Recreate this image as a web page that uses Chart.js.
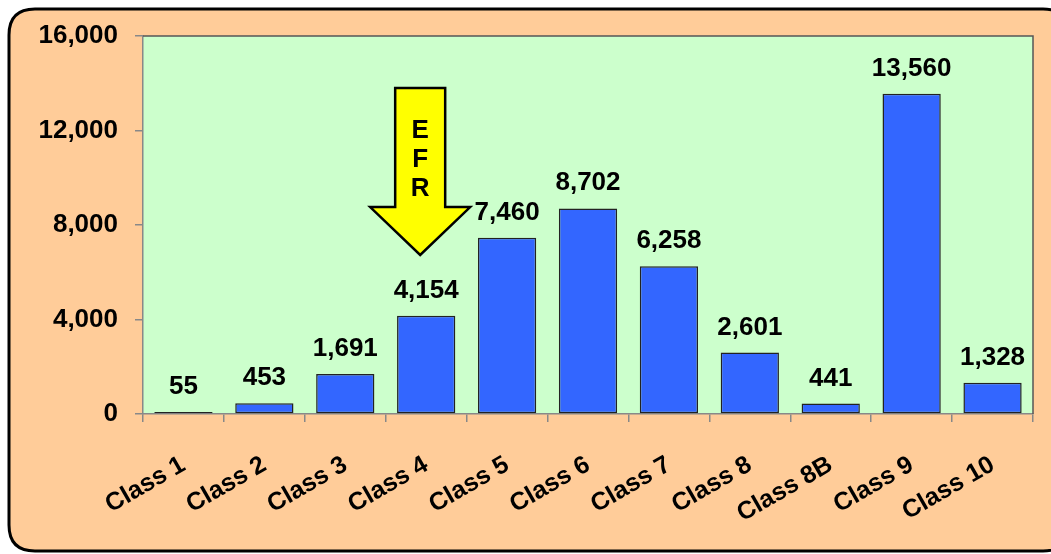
<!DOCTYPE html>
<html><head><meta charset="utf-8">
<script src="https://cdn.jsdelivr.net/npm/chart.js@4/dist/chart.umd.min.js"></script>
<style>html,body{margin:0;padding:0;background:#fff;overflow:hidden}canvas{display:block}</style>
</head><body>
<canvas id="c" width="1051" height="554"></canvas>
<script>
const categories = ['Class 1','Class 2','Class 3','Class 4','Class 5','Class 6','Class 7','Class 8','Class 8B','Class 9','Class 10'];
const values = [55, 453, 1691, 4154, 7460, 8702, 6258, 2601, 441, 13560, 1328];
const yTicks = [0, 4000, 8000, 12000, 16000];
const arrowText = ['E', 'F', 'R'];
const arrowCategoryIndex = 3;

const FONT = '"Liberation Sans", Arial, sans-serif';
const fmt = v => v.toLocaleString('en-US');

function roundRect(ctx, x, y, w, h, r) {
  ctx.beginPath();
  ctx.moveTo(x + r, y);
  ctx.lineTo(x + w - r, y);
  ctx.quadraticCurveTo(x + w, y, x + w, y + r);
  ctx.lineTo(x + w, y + h - r);
  ctx.quadraticCurveTo(x + w, y + h, x + w - r, y + h);
  ctx.lineTo(x + r, y + h);
  ctx.quadraticCurveTo(x, y + h, x, y + h - r);
  ctx.lineTo(x, y + r);
  ctx.quadraticCurveTo(x, y, x + r, y);
  ctx.closePath();
}

const bgPlugin = {
  id: 'bg',
  beforeDraw(chart) {
    const ctx = chart.ctx, a = chart.chartArea;
    ctx.save();
    ctx.fillStyle = '#ffffff';
    ctx.fillRect(0, 0, chart.width, chart.height);
    roundRect(ctx, 9, 9, 1060, 542, 26);
    ctx.fillStyle = '#FFCC99';
    ctx.fill();
    ctx.lineWidth = 3;
    ctx.strokeStyle = '#000000';
    ctx.stroke();
    ctx.fillStyle = '#CCFFCC';
    ctx.fillRect(a.left, a.top, a.right - a.left, a.bottom - a.top);
    ctx.restore();
  },
  afterDraw(chart) {
    const ctx = chart.ctx, a = chart.chartArea;
    ctx.save();
    ctx.strokeStyle = '#555555';
    ctx.lineWidth = 1.5;
    ctx.beginPath();
    ctx.moveTo(a.left, a.top);
    ctx.lineTo(a.right, a.top);
    ctx.lineTo(a.right, a.bottom);
    ctx.stroke();
    ctx.restore();
  }
};

const labelPlugin = {
  id: 'vlabels',
  afterDatasetsDraw(chart) {
    const ctx = chart.ctx;
    const meta = chart.getDatasetMeta(0);
    ctx.save();
    ctx.font = 'bold 26px ' + FONT;
    ctx.fillStyle = '#000';
    ctx.textAlign = 'center';
    ctx.textBaseline = 'alphabetic';
    meta.data.forEach((bar, i) => {
      ctx.fillText(fmt(values[i]), bar.x, bar.y - 18);
    });

    // EFR arrow annotation
    const xs = chart.scales.x, ys = chart.scales.y;
    const cx = xs.getPixelForValue(arrowCategoryIndex) - 6;
    const top = ys.getPixelForValue(13800);
    const base = ys.getPixelForValue(8760);
    const tip = ys.getPixelForValue(6730);
    ctx.beginPath();
    ctx.moveTo(cx - 25, top);
    ctx.lineTo(cx + 25, top);
    ctx.lineTo(cx + 25, base);
    ctx.lineTo(cx + 50, base);
    ctx.lineTo(cx, tip);
    ctx.lineTo(cx - 50, base);
    ctx.lineTo(cx - 25, base);
    ctx.closePath();
    ctx.fillStyle = '#FFFF00';
    ctx.fill();
    ctx.lineWidth = 2.5;
    ctx.lineJoin = 'miter';
    ctx.strokeStyle = '#000';
    ctx.stroke();
    ctx.fillStyle = '#000';
    ctx.font = 'bold 26px ' + FONT;
    ctx.textBaseline = 'middle';
    arrowText.forEach((t, k) => {
      ctx.fillText(t, cx, top + 43 + k * 29);
    });
    ctx.restore();
  }
};

new Chart(document.getElementById('c'), {
  type: 'bar',
  data: {
    labels: categories,
    datasets: [{
      data: values,
      backgroundColor: '#3366FF',
      borderColor: '#222222',
      borderWidth: 1.5,
      borderSkipped: false,
      minBarLength: 2,
      categoryPercentage: 1,
      barPercentage: 0.72
    }]
  },
  options: {
    responsive: false,
    animation: false,
    devicePixelRatio: 1,
    layout: { padding: { left: 0, top: 36, right: 18, bottom: 0 } },
    plugins: { legend: { display: false }, tooltip: { enabled: false } },
    scales: {
      x: {
        grid: { offset: true, drawOnChartArea: false, tickLength: 8, color: '#888888', lineWidth: 1.5 },
        border: { color: '#888888', width: 1.5 },
        ticks: { color: '#000', font: { family: FONT, size: 25, weight: 'bold' }, maxRotation: 30, minRotation: 30, padding: 28, autoSkip: false },
        afterFit(s) { s.height = 140; }
      },
      y: {
        min: 0, max: 16000,
        afterBuildTicks(s) { s.ticks = yTicks.map(v => ({ value: v })); },
        grid: { drawOnChartArea: false, tickLength: 8, color: '#888888', lineWidth: 1.5 },
        border: { color: '#888888', width: 1.5 },
        ticks: { color: '#000', font: { family: FONT, size: 26, weight: 'bold' }, padding: 17, callback: v => fmt(v) },
        afterFit(s) { s.width = 143; }
      }
    }
  },
  plugins: [bgPlugin, labelPlugin]
});
</script>
</body></html>
